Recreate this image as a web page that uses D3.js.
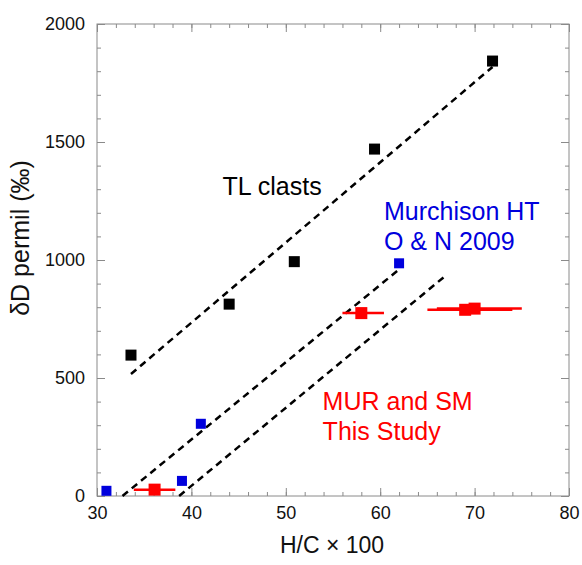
<!DOCTYPE html>
<html>
<head>
<meta charset="utf-8">
<script src="https://cdn.jsdelivr.net/npm/d3@7"></script>
<style>
  body { margin: 0; background: #fff; }
  svg text { font-family: 'Liberation Sans', Arial, sans-serif; }
</style>
</head>
<body>
<div id="grafica"></div>
<script>
// datos
tlX = [33.6, 44.0, 50.9, 59.4, 71.9]
tlY = [597, 813, 993, 1470, 1843]

murX = [31.0, 39.0, 41.0, 62.0]
murY = [22, 64, 306, 986]

estudioX = [36.1, 58.0, 69.0, 70.0]
estudioY = [27, 775, 789, 794]
estudioMin = [33.9, 56.0, 65.0, 66.0]
estudioMax = [38.3, 60.4, 74.0, 75.0]

// rectas de ajuste [x1, y1, x2, y2]
rectas = [
  [33.6, 517, 71.9, 1818],
  [32.7, 0, 62.0, 960],
  [38.7, 0, 67.0, 936]
]

xTicks = [30, 40, 50, 60, 70, 80]
yTicks = [0, 500, 1000, 1500, 2000]

ancho_total = 582
alto_total = 565
margin = { left: 97, right: 13, top: 24, bottom: 69 }
ancho = ancho_total - margin.left - margin.right
alto = alto_total - margin.top - margin.bottom

svg = d3.select('#grafica')
        .append('svg')
        .attr('width', ancho_total)
        .attr('height', alto_total)

g = svg.append('g')
       .attr('transform', 'translate(' + margin.left + ',' + margin.top + ')')

x = d3.scaleLinear().domain([30, 80]).range([0, ancho])
y = d3.scaleLinear().domain([0, 2000]).range([alto, 0])

gris = '#8a8a8a'

function estilo(sel, labels) {
  sel.select('.domain').remove()
  sel.selectAll('line').attr('stroke', gris)
  sel.selectAll('text')
     .attr('fill', '#111')
     .attr('font-size', '18px')
  if (!labels) sel.selectAll('text').remove()
}

// ejes menores
g.append('g').attr('transform', `translate(0, ${alto})`)
  .call(d3.axisBottom(x).ticks(25).tickSize(-4).tickFormat(''))
  .call(estilo, false)
g.append('g')
  .call(d3.axisTop(x).ticks(25).tickSize(-4).tickFormat(''))
  .call(estilo, false)
g.append('g')
  .call(d3.axisLeft(y).ticks(20).tickSize(-4).tickFormat(''))
  .call(estilo, false)
g.append('g').attr('transform', `translate(${ancho}, 0)`)
  .call(d3.axisRight(y).ticks(20).tickSize(-4).tickFormat(''))
  .call(estilo, false)

// ejes mayores
g.append('g').attr('transform', `translate(0, ${alto})`)
  .call(d3.axisBottom(x).tickValues(xTicks).tickSize(-8).tickPadding(10).tickFormat(d3.format('d')))
  .call(estilo, true)
g.append('g')
  .call(d3.axisTop(x).tickValues(xTicks).tickSize(-8).tickFormat(''))
  .call(estilo, false)
g.append('g')
  .call(d3.axisLeft(y).tickValues(yTicks).tickSize(-8).tickPadding(12).tickFormat(d3.format('d')))
  .call(estilo, true)
g.append('g').attr('transform', `translate(${ancho}, 0)`)
  .call(d3.axisRight(y).tickValues(yTicks).tickSize(-8).tickFormat(''))
  .call(estilo, false)

// marco
g.append('rect')
  .attr('x', 0).attr('y', 0)
  .attr('width', ancho).attr('height', alto)
  .attr('fill', 'none')
  .attr('stroke', gris)
  .attr('stroke-width', 1)

// rectas punteadas
g.selectAll('.recta')
  .data(rectas)
  .enter()
  .append('line')
    .attr('x1', (d) => x(d[0]))
    .attr('y1', (d) => y(d[1]))
    .attr('x2', (d) => x(d[2]))
    .attr('y2', (d) => y(d[3]))
    .attr('stroke', '#000')
    .attr('stroke-width', 2.5)
    .attr('stroke-dasharray', '7,5')

// barras de error
estudio = estudioX.map((d, i) => ({ x: d, y: estudioY[i], min: estudioMin[i], max: estudioMax[i] }))

g.selectAll('.barra')
  .data(estudio)
  .enter()
  .append('line')
    .attr('x1', (d) => x(d.min))
    .attr('x2', (d) => x(d.max))
    .attr('y1', (d) => y(d.y))
    .attr('y2', (d) => y(d.y))
    .attr('stroke', '#ff0000')
    .attr('stroke-width', 2.5)

function cuadros(xs, ys, lado, color) {
  g.append('g')
    .selectAll('rect')
    .data(xs.map((d, i) => [d, ys[i]]))
    .enter()
    .append('rect')
      .attr('x', (d) => x(d[0]) - lado / 2)
      .attr('y', (d) => y(d[1]) - lado / 2)
      .attr('width', lado)
      .attr('height', lado)
      .attr('fill', color)
}

cuadros(tlX, tlY, 11, '#000')
cuadros(murX, murY, 10, '#0000dd')
cuadros(estudioX, estudioY, 12, '#ff0000')

// textos
function texto(lineas, px, py, color) {
  t = g.append('text')
        .attr('x', x(px))
        .attr('y', y(py))
        .attr('fill', color)
        .attr('font-size', '25px')
  lineas.forEach((l, i) => {
    t.append('tspan')
      .attr('x', x(px))
      .attr('dy', i == 0 ? 0 : 30)
      .text(l)
  })
}

texto(['TL clasts'], 43.3, 1275, '#000')
texto(['Murchison HT', 'O & N 2009'], 60.4, 1169, '#0000dd')
texto(['MUR and SM', 'This Study'], 53.9, 364, '#ff0000')

// titulos de ejes
svg.append('text')
  .attr('x', 332)
  .attr('y', 553)
  .attr('text-anchor', 'middle')
  .attr('font-size', '23px')
  .attr('fill', '#111')
  .text('H/C × 100')

svg.append('text')
  .attr('transform', 'translate(29, 238) rotate(-90)')
  .attr('text-anchor', 'middle')
  .attr('font-size', '25px')
  .attr('fill', '#111')
  .text('δD permil (‰)')
</script>
</body>
</html>
